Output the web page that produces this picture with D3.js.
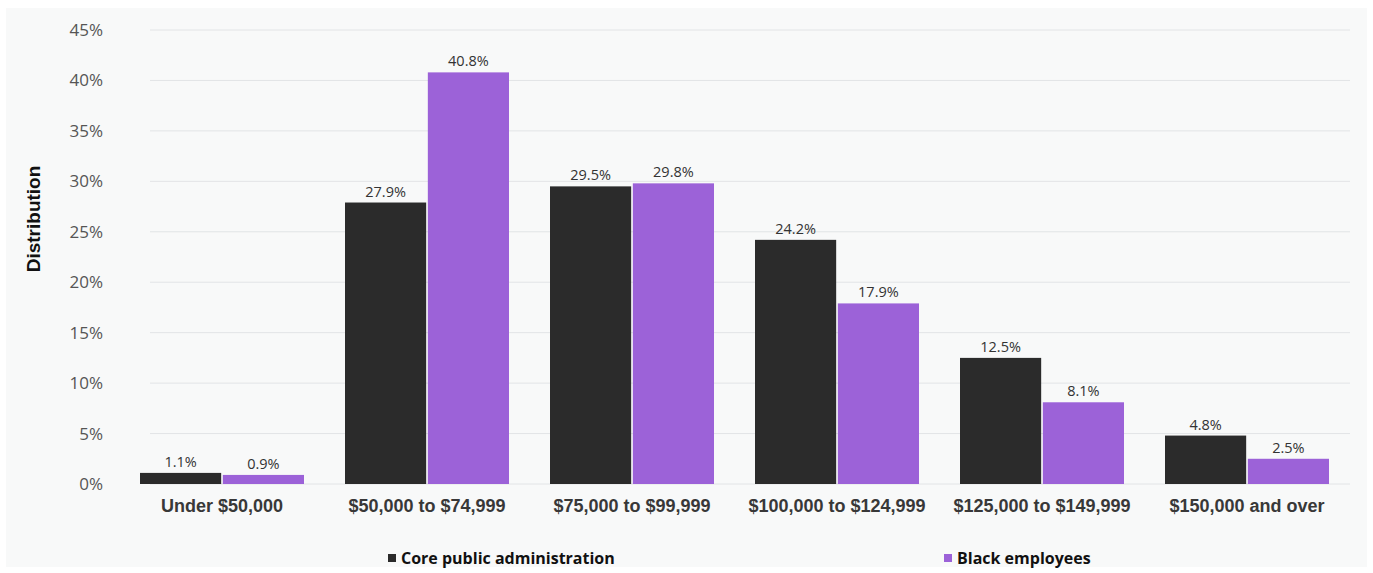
<!DOCTYPE html>
<html><head><meta charset="utf-8">
<script src="https://cdn.jsdelivr.net/npm/d3@7"></script>
<style>body{margin:0;background:#fff;}svg{display:block;font-family:"Open Sans",sans-serif;}</style>
</head><body><svg id="c" width="1373" height="573"></svg>
<script>
const categories = ["Under $50,000","$50,000 to $74,999","$75,000 to $99,999","$100,000 to $124,999","$125,000 to $149,999","$150,000 and over"];
const seriesNames = ["Core public administration","Black employees"];
const coreValues = [1.1, 27.9, 29.5, 24.2, 12.5, 4.8];
const blackValues = [0.9, 40.8, 29.8, 17.9, 8.1, 2.5];
const yTicks = [0,5,10,15,20,25,30,35,40,45];
const colors = ["#2b2b2b","#9c62d8"];

const svg = d3.select("#c");
svg.append("rect").attr("x",6).attr("y",8).attr("width",1361).attr("height",559).attr("fill","#f8f9f9");

const x = d3.scaleBand().domain(categories).range([119.5,1349.5]).paddingInner(0.2).paddingOuter(0.1);
const xs = d3.scaleBand().domain(seriesNames).range([0,x.bandwidth()]).paddingInner(0.02);
const y = d3.scaleLinear().domain([0,45]).range([484,30]);

// gridlines
svg.append("g").selectAll("line").data(yTicks).join("line")
  .attr("x1",150).attr("x2",1350).attr("y1",d=>y(d)).attr("y2",d=>y(d))
  .attr("stroke","#e2e4e6").attr("stroke-width",1);

// y axis labels
const yAxis = d3.axisLeft(y).tickValues(yTicks).tickFormat(d=>d+"%").tickSize(0).tickPadding(0);
const ga = svg.append("g").attr("transform","translate(103,0)").call(yAxis);
ga.select(".domain").remove();
ga.selectAll("text").attr("font-size",17).attr("fill","#555").attr("font-family","Open Sans, sans-serif");

// y title
svg.append("text").attr("transform","translate(40,219) rotate(-90)").attr("text-anchor","middle")
  .attr("font-family","Liberation Sans, Arial, sans-serif")
  .attr("font-size",19).attr("font-weight","bold").attr("fill","#111").text("Distribution");

const data = categories.map((c,i)=>({cat:c, vals:[coreValues[i], blackValues[i]]}));
const groups = svg.append("g").selectAll("g").data(data).join("g").attr("transform",d=>`translate(${x(d.cat)},0)`);
groups.selectAll("rect").data(d=>d.vals.map((v,j)=>({v,j}))).join("rect")
  .attr("x",d=>xs(seriesNames[d.j])).attr("width",xs.bandwidth())
  .attr("y",d=>y(d.v)).attr("height",d=>y(0)-y(d.v)).attr("fill",d=>colors[d.j]);
groups.selectAll("text").data(d=>d.vals.map((v,j)=>({v,j}))).join("text")
  .attr("x",d=>xs(seriesNames[d.j])+xs.bandwidth()/2).attr("y",d=>y(d.v)-6)
  .attr("text-anchor","middle").attr("font-size",14.5).attr("fill","#333").text(d=>d.v.toFixed(1)+"%");

// x axis labels
const xAxis = d3.axisBottom(x).tickSize(0).tickPadding(0);
const gx = svg.append("g").attr("transform","translate(0,512)").call(xAxis);
gx.select(".domain").remove();
gx.selectAll("text").attr("y",0).attr("dy",0).attr("font-size",18).attr("font-weight","bold").attr("fill","#383838").attr("font-family","Liberation Sans, Arial, sans-serif");

// legend
const legX = [388, 944];
const leg = svg.append("g").selectAll("g").data(seriesNames).join("g").attr("transform",(d,i)=>`translate(${legX[i]},558)`);
leg.append("rect").attr("x",0).attr("y",-4).attr("width",8).attr("height",8).attr("fill",(d,i)=>colors[i]);
leg.append("text").attr("x",13).attr("y",0).attr("dy","0.35em").attr("font-size",16).attr("font-weight","bold").attr("fill","#111").text(d=>d);
</script></body></html>
